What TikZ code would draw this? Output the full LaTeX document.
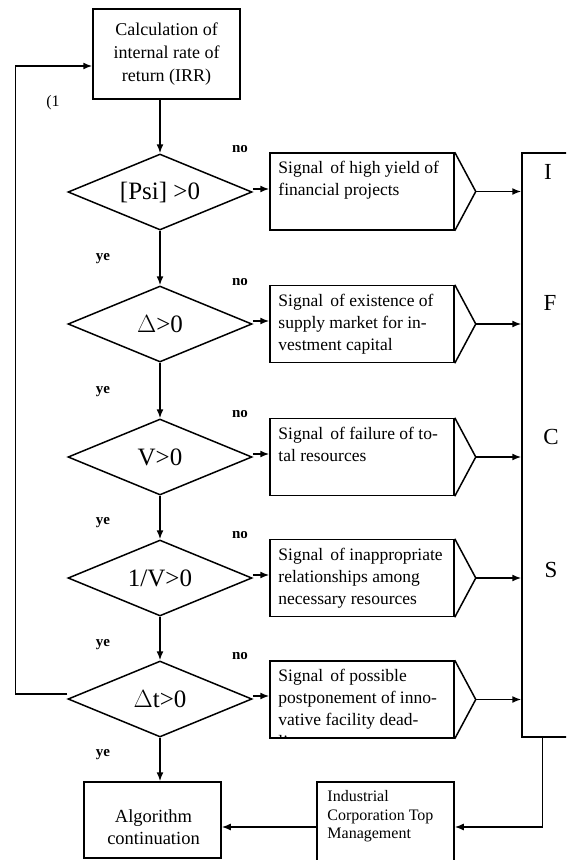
\documentclass[tikz,border=0pt]{standalone}
\usepackage{fontspec}
\setmainfont{Liberation Serif}
\usetikzlibrary{shapes.geometric,arrows.meta,calc}
\begin{document}
\begin{tikzpicture}[x=1pt,y=-1pt,
 line/.style={line width=1.5pt},
 arr/.style={line width=1.5pt, -{Latex[length=9pt,width=7pt]}},
 box/.style={draw, line width=1.5pt, inner sep=0pt},
 dia/.style={draw, diamond, line width=1.5pt, aspect=2.42, minimum width=184pt, minimum height=76pt, inner sep=0pt, font=\fontsize{25}{27}\selectfont},
 sig/.style={box, minimum width=184pt, minimum height=77pt},
 sigtext/.style={anchor=north west, align=left, inner sep=0pt, font=\fontsize{17.5}{22}\selectfont},
 lab/.style={font=\bfseries\fontsize{15}{17}\selectfont, inner sep=0pt},
 letter/.style={font=\fontsize{23}{25}\selectfont, inner sep=0pt}
]
\useasboundingbox (0,0) rectangle (566,860);
\clip (0,0) rectangle (566,860);

% top box
\node[box, minimum width=147pt, minimum height=90pt, align=center,
      font=\fontsize{18}{23}\selectfont] (calc) at (166.5,54)
      {Calculation of\\internal rate of\\return (IRR)};

% diamonds
\node[dia] (d1) at (160,192) {[Psi] >0};
\node[dia] (d2) at (160,324) {$\Delta$>0};
\node[dia] (d3) at (160,457) {V>0};
\node[dia] (d4) at (160,578) {1/V>0};
\node[dia] (d5) at (160,699) {$\Delta$t>0};

% signal boxes
\node[sig] (s1) at (362,191.5) {};
\node[sig] (s2) at (362,324) {};
\node[sig] (s3) at (362,457) {};
\node[sig] (s4) at (362,578) {};
\node[sig] (s5) at (362,699.5) {};

\node[sigtext] (t1) at ($(s1.north west)+(9,9)$) {Signal\, of high yield of\\financial projects};
\node[sigtext] (t2) at ($(s2.north west)+(9,9)$) {Signal\, of existence of\\supply market for in-\\vestment capital};
\node[sigtext] (t3) at ($(s3.north west)+(9,9)$) {Signal\, of failure of to-\\tal resources};
\node[sigtext] (t4) at ($(s4.north west)+(9,9)$) {Signal\, of inappropriate\\relationships among\\necessary resources};
\begin{scope}
\clip (s5.north west) rectangle (s5.south east);
\node[sigtext] (t5) at ($(s5.north west)+(9,9)$) {Signal\, of possible\\postponement of inno-\\vative facility dead-\\line};
\end{scope}

% chevrons
\foreach \s in {s1,s2,s3,s4,s5}{
  \draw[line] (\s.north east) -- ($(\s.east)+(21,0)$) coordinate (\s tip) -- (\s.south east);
}

% tall right box
\node[box, minimum width=53pt, minimum height=584pt] (res) at (548.5,445) {};
\node[letter] (lI) at (548,172) {I};
\node[letter] (lF) at (550,303) {F};
\node[letter] (lC) at (551,437) {C};
\node[letter] (lS) at (551,570) {S};

% bottom boxes
\node[box, minimum width=137pt, minimum height=76pt] (alg) at (152.5,820) {};
\node[align=center, inner sep=0pt, font=\fontsize{18.5}{22}\selectfont] (algt) at (153.5,827) {Algorithm\\continuation};
\node[box, minimum width=137pt, minimum height=90pt] (ind) at (385.5,827) {};
\node[anchor=north west, align=left, inner sep=0pt, font=\fontsize{16}{18.5}\selectfont] (indt) at ($(ind.north west)+(11,9)$) {Industrial\\Corporation Top\\Management};

% vertical flow
\draw[arr] (d1.north |- calc.south) -- (d1.north);
\draw[arr] (d1.south) -- (d2.north);
\draw[arr] (d2.south) -- (d3.north);
\draw[arr] (d3.south) -- (d4.north);
\draw[arr] (d4.south) -- (d5.north);
\draw[arr] (d5.south) -- (d5.south |- alg.north);

% diamond -> signal
\foreach \i in {1,...,5}{
  \draw[arr] ([yshift=3pt]d\i.east) -- ([yshift=3pt]d\i.east -| s\i.west);
  \draw[arr] (s\i tip) -- (s\i tip -| res.west);
}

% loop back
\coordinate (lpin) at ($(calc.west)+(0,12)$);
\draw[arr] ([yshift=5pt]d5.west) -- ++(-52,0) |- (lpin);

% bottom connections
\coordinate (rb) at ($(res.south west)+(21,0)$);
\draw[arr] (rb) |- (ind.east);
\draw[arr] (ind.west) -- (ind.west -| alg.east);

% labels
\node[lab] (n1) at (240,149) {no};
\node[lab] (n2) at (240,282) {no};
\node[lab] (n3) at (240,414) {no};
\node[lab] (n4) at (240,535) {no};
\node[lab] (n5) at (240,656) {no};
\node[lab] (y1) at (103,259) {ye};
\node[lab] (y2) at (103,392) {ye};
\node[lab] (y3) at (103,523) {ye};
\node[lab] (y4) at (103,645) {ye};
\node[lab] (y5) at (103,755) {ye};
\node[inner sep=0pt, font=\fontsize{16}{18}\selectfont] (one) at (53,103) {(1};
\end{tikzpicture}
\end{document}
